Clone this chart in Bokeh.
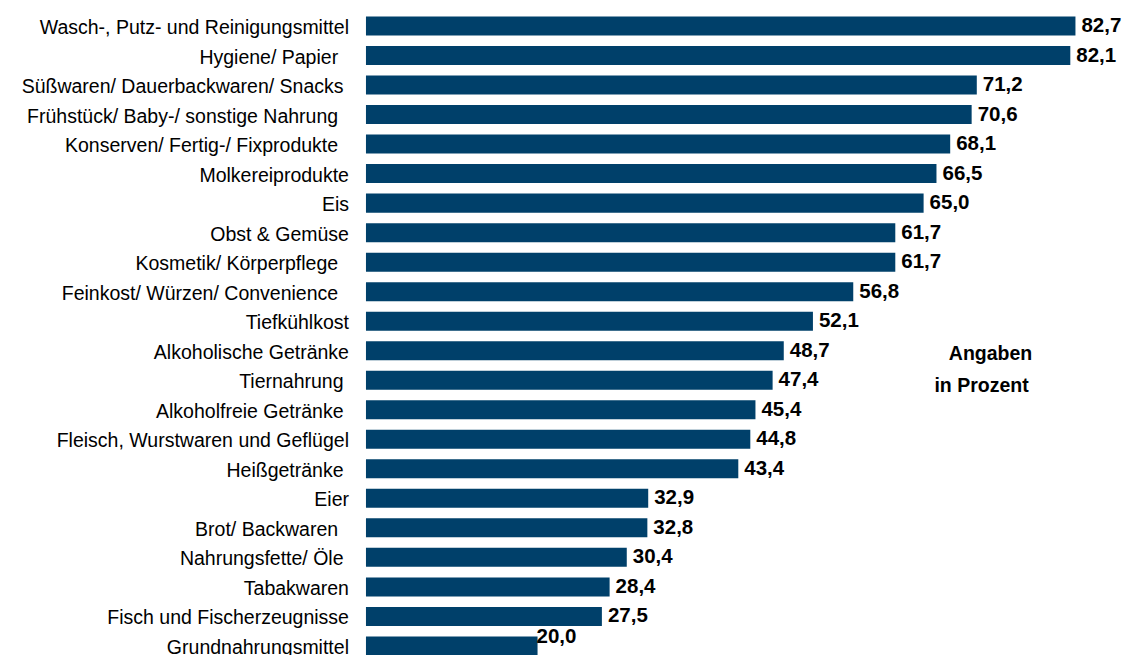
from bokeh.plotting import figure
from bokeh.models import Range1d, ColumnDataSource, Label
from bokeh.core.properties import value
from bokeh.embed import file_html
from bokeh.resources import INLINE

categories = [
    "Wasch-, Putz- und Reinigungsmittel",
    "Hygiene/  Papier ",
    "Süßwaren/  Dauerbackwaren/ Snacks",
    "Frühstück/  Baby-/  sonstige Nahrung",
    "Konserven/  Fertig-/  Fixprodukte",
    "Molkereiprodukte",
    "Eis",
    "Obst & Gemüse",
    "Kosmetik/  Körperpflege ",
    "Feinkost/  Würzen/  Convenience",
    "Tiefkühlkost",
    "Alkoholische Getränke",
    "Tiernahrung ",
    "Alkoholfreie Getränke ",
    "Fleisch, Wurstwaren und Geflügel",
    "Heißgetränke ",
    "Eier",
    "Brot/  Backwaren ",
    "Nahrungsfette/  Öle",
    "Tabakwaren",
    "Fisch und Fischerzeugnisse",
    "Grundnahrungsmittel",
]
values = [82.7, 82.1, 71.2, 70.6, 68.1, 66.5, 65.0, 61.7, 61.7, 56.8, 52.1,
          48.7, 47.4, 45.4, 44.8, 43.4, 32.9, 32.8, 30.4, 28.4, 27.5, 20.0]
note_lines = ["Angaben", "in Prozent"]

BAR_COLOR = "#00406A"
FONT = "Liberation Sans"

n = len(categories)
rows = list(range(n))
value_texts = [f"{v:.1f}".replace(".", ",") for v in values]

src = ColumnDataSource(dict(y=rows, v=values, cat=categories, vt=value_texts))
last = ColumnDataSource(dict(y=rows[-1:], v=values[-1:], vt=value_texts[-1:]))
main = ColumnDataSource(dict(y=rows[:-1], v=values[:-1], vt=value_texts[:-1]))

p = figure(width=1126, height=655, output_backend="svg", toolbar_location=None,
           x_range=Range1d(-42.60, 88.65), y_range=Range1d(21.3245, -0.8638),
           min_border=0, outline_line_color=None, background_fill_color="white",
           border_fill_color="white")
p.axis.visible = False
p.grid.visible = False

p.hbar(y="y", left=0, right="v", height=0.644, source=src,
       fill_color=BAR_COLOR, line_color=None)

p.text(x=0, y="y", text="cat", source=src, x_offset=-17, y_offset=1,
       text_align="right", text_baseline="alphabetic",
       text_font=value(FONT), text_font_size="19.5px", text_color="black")

p.text(x="v", y="y", text="vt", source=main, x_offset=6, y_offset=-1,
       text_align="left", text_baseline="alphabetic",
       text_font=value(FONT), text_font_size="20.5px", text_font_style="bold",
       text_color="black")
p.text(x="v", y="y", text="vt", source=last, x_offset=-1, y_offset=-10,
       text_align="left", text_baseline="alphabetic",
       text_font=value(FONT), text_font_size="20.5px", text_font_style="bold",
       text_color="black")

p.add_layout(Label(x=72.8, y=11.09, text=note_lines[0], text_align="center",
                   text_baseline="alphabetic", text_font=FONT, text_color="black",
                   text_font_size="19.5px", text_font_style="bold"))
p.add_layout(Label(x=71.75, y=12.165, text=note_lines[1], text_align="center",
                   text_baseline="alphabetic", text_font=FONT, text_color="black",
                   text_font_size="19.5px", text_font_style="bold"))

open("out.html", "w").write(file_html(p, INLINE))
